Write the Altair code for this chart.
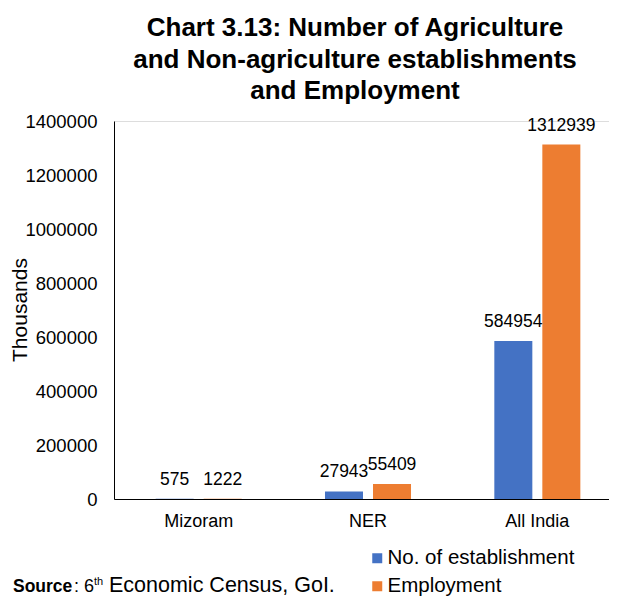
import altair as alt
import pandas as pd

# ---- data ----
regions = ["Mizoram", "NER", "All India"]
series_names = ["No. of establishment", "Employment"]
establishments = [575, 27943, 584954]
employment = [1222, 55409, 1312939]
y_ticks = [0, 200000, 400000, 600000, 800000, 1000000, 1200000, 1400000]
colors = ["#4472C4", "#ED7D31"]

title_lines = [
    "Chart 3.13: Number of Agriculture",
    "and Non-agriculture establishments",
    "and Employment",
]
y_title = "Thousands"
source_bold = "Source"
source_colon = ":"
source_num = "6"
source_sup = "th"
source_rest = "Economic Census, GoI."

rows = []
for r, a, b in zip(regions, establishments, employment):
    rows.append({"region": r, "series": series_names[0], "value": a})
    rows.append({"region": r, "series": series_names[1], "value": b})
df = pd.DataFrame(rows)

FONT = "Liberation Sans"

x_enc = alt.X(
    "region:N",
    sort=regions,
    scale=alt.Scale(range=[0, 508], paddingInner=0.492, paddingOuter=0.246),
    axis=alt.Axis(
        title=None, labelAngle=0, ticks=False, labelPadding=13,
        labelFontSize=18, labelColor="#000000", domainColor="#000000",
        labelFont=FONT,
    ),
)
xo_enc = alt.XOffset(
    "series:N", sort=series_names,
    scale=alt.Scale(paddingInner=0.2083, paddingOuter=0),
)
y_enc = alt.Y(
    "value:Q",
    scale=alt.Scale(domain=[0, 1400000], nice=False),
    axis=alt.Axis(
        title=None, values=y_ticks, format="d", grid=False, ticks=False,
        labelPadding=17, labelFontSize=18.5, labelColor="#000000",
        domainColor="#000000", labelFont=FONT,
    ),
)
color_enc = alt.Color(
    "series:N",
    sort=series_names,
    scale=alt.Scale(domain=series_names, range=colors),
    legend=alt.Legend(
        title=None, orient="none", legendX=253, legendY=427,
        symbolType="square", symbolSize=100, symbolStrokeWidth=0,
        labelFontSize=20.5, labelFont=FONT, labelColor="#000000",
        labelLimit=0, rowPadding=7, labelOffset=0, padding=0,
    ),
)

base = alt.Chart(df)

bars = base.mark_bar().encode(x=x_enc, xOffset=xo_enc, y=y_enc, color=color_enc)

labels = base.mark_text(
    dy=-14, baseline="alphabetic", align="center", fontSize=17.5,
    font=FONT, color="#000000",
).encode(x=x_enc, xOffset=xo_enc, y=y_enc, text=alt.Text("value:Q", format="d"))

title_df = pd.DataFrame({"t": ["\n".join(title_lines)]})
title = alt.Chart(title_df).mark_text(
    lineBreak="\n", lineHeight=31.5, fontSize=26, fontWeight="bold",
    font=FONT, color="#000000", align="center", baseline="alphabetic",
).encode(text="t:N", x=alt.value(241), y=alt.value(-85))

ytitle = alt.Chart(pd.DataFrame({"t": [y_title]})).mark_text(
    angle=270, fontSize=21, font=FONT, color="#000000",
    align="center", baseline="middle",
).encode(text="t:N", x=alt.value(-93), y=alt.value(189))

src1 = alt.Chart(pd.DataFrame({"t": [source_bold]})).mark_text(
    fontSize=17.5, fontWeight="bold", font=FONT, color="#000000",
    align="left", baseline="alphabetic",
).encode(text="t:N", x=alt.value(-101), y=alt.value(471))
src2 = alt.Chart(pd.DataFrame({"t": [source_colon]})).mark_text(
    fontSize=18, font=FONT, color="#000000", align="left", baseline="alphabetic",
).encode(text="t:N", x=alt.value(-40), y=alt.value(471))
src3 = alt.Chart(pd.DataFrame({"t": [source_num]})).mark_text(
    fontSize=18, font=FONT, color="#000000", align="left", baseline="alphabetic",
).encode(text="t:N", x=alt.value(-30), y=alt.value(471))
src4 = alt.Chart(pd.DataFrame({"t": [source_sup]})).mark_text(
    fontSize=11, font=FONT, color="#000000", align="left", baseline="alphabetic",
).encode(text="t:N", x=alt.value(-20), y=alt.value(464))
src5 = alt.Chart(pd.DataFrame({"t": [source_rest]})).mark_text(
    fontSize=21.5, font=FONT, color="#000000", align="left", baseline="alphabetic",
).encode(text="t:N", x=alt.value(-5), y=alt.value(471))

chart = alt.layer(
    bars, labels, title, ytitle, src1, src2, src3, src4, src5
).properties(
    width=495,
    height=378,
    autosize=alt.AutoSizeParams(type="none"),
    padding={"left": 106, "top": 113, "right": 0, "bottom": 97},
).configure_view(
    stroke=None
).configure(
    font=FONT, background="#ffffff"
)

chart.save("out.html", embed_options={"renderer": "svg", "actions": False})
